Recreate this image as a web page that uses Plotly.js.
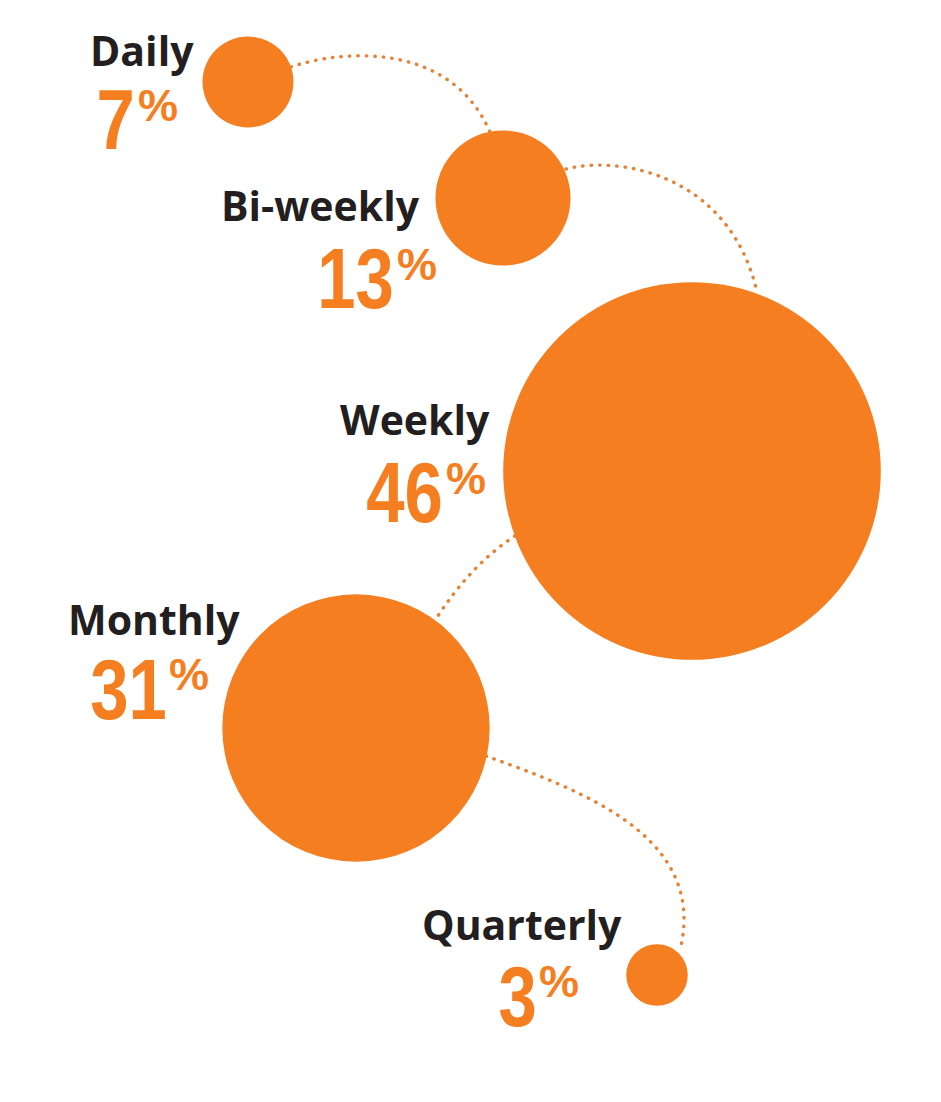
<!DOCTYPE html>
<html>
<head>
<meta charset="utf-8">
<script src="https://cdn.plot.ly/plotly-3.0.1.min.js"></script>
<style>
  html, body { margin: 0; padding: 0; background: #ffffff; }
  #chart { width: 941px; height: 1102px; }
  .shapelayer path { stroke-linecap: round !important; }
</style>
</head>
<body>
<div id="chart"></div>
<script>
// ---- data ----
const categories = ['Daily', 'Bi-weekly', 'Weekly', 'Monthly', 'Quarterly'];
const shares = [7, 13, 46, 31, 3];   // percent of respondents

// ---- layout placement (design positions, pixel space) ----
const bubbleX = [248, 503, 692, 356, 657];
const bubbleY = [82, 198, 471, 728, 975];
const labelX = [142, 320, 415, 154, 522];
const labelY = [50, 205, 419, 619, 924];
const numRight = [136, 395, 444, 168, 538];
const numY = [119, 278, 492, 689, 996];
const pctLeft = [137, 396, 445, 168, 538];
const pctY = [105, 264, 478, 674, 981];

const ORANGE = '#F47E20';
const DARK = '#231F20';
const DOTS = '#E3833A';

// bubble diameter from share
const diam = shares.map(v => 39.5 + 7.35 * v);

const trace = {
  type: 'scatter',
  mode: 'markers',
  x: bubbleX,
  y: bubbleY,
  text: categories,
  marker: { size: diam, sizemode: 'diameter', color: ORANGE, opacity: 1, line: { width: 0 } },
  hoverinfo: 'skip',
  cliponaxis: false
};

const annotations = [];
categories.forEach((c, i) => {
  annotations.push({
    xref: 'x', yref: 'y', x: labelX[i], y: labelY[i],
    xanchor: 'center', yanchor: 'middle', showarrow: false,
    height: 52, valign: 'middle', borderpad: 0,
    text: c,
    font: { family: 'Open Sans, Liberation Sans, sans-serif', size: 41, color: DARK, weight: 700 }
  });
  annotations.push({
    xref: 'x', yref: 'y', x: numRight[i], y: numY[i],
    xanchor: 'right', yanchor: 'middle', showarrow: false,
    height: 70, valign: 'middle', borderpad: 0,
    text: String(shares[i]),
    font: { family: 'Liberation Sans, sans-serif', size: 86, color: ORANGE, weight: 700 }
  });
  annotations.push({
    xref: 'x', yref: 'y', x: pctLeft[i], y: pctY[i],
    xanchor: 'left', yanchor: 'middle', showarrow: false,
    height: 46, valign: 'middle', borderpad: 0,
    text: '%',
    font: { family: 'Liberation Sans, sans-serif', size: 45, color: ORANGE, weight: 700 }
  });
});

const connectors = [
  'M 291 67 C 340 50 450 40 490 132',
  'M 566 169 C 620 155 730 175 757 292',
  'M 515 536 Q 470 565 434 622',
  'M 486 756 C 580 790 705 835 681 946'
];

const shapes = connectors.map(p => ({
  type: 'path', xref: 'x', yref: 'y', path: p, layer: 'below',
  line: { color: DOTS, width: 3.4, dash: '0.5px,8px' }
}));

const layout = {
  width: 941, height: 1102,
  margin: { l: 0, r: 0, t: 0, b: 0 },
  paper_bgcolor: '#ffffff', plot_bgcolor: '#ffffff',
  showlegend: false,
  xaxis: { range: [0, 941], visible: false, fixedrange: true },
  yaxis: { range: [1102, 0], visible: false, fixedrange: true },
  annotations: annotations,
  shapes: shapes,
  hovermode: false
};

Plotly.newPlot('chart', [trace], layout, { displayModeBar: false, staticPlot: true }).then(gd => {
  // condense the big figures (the original uses a condensed numeral face)
  categories.forEach((c, i) => {
    const t = gd.querySelector('g.annotation[data-index="' + (3 * i + 1) + '"] text.annotation-text');
    if (t) {
      t.style.transformBox = 'fill-box';
      t.style.transformOrigin = 'right center';
      t.style.transform = 'scaleX(0.8)';
    }
  });
});
</script>
</body>
</html>
